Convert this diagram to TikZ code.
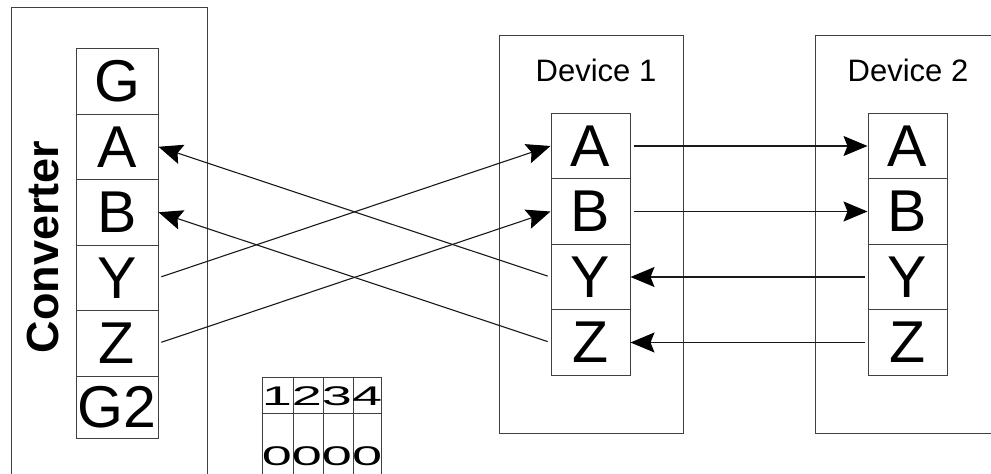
\documentclass[tikz,border=0pt]{standalone}
\usepackage{fontspec}
\setmainfont{Liberation Sans}
\usetikzlibrary{arrows.meta}
\tikzset{
  frame/.style={draw=black!75, line width=1pt},
  pin/.style={draw=black!75, line width=1pt, rectangle, inner sep=0pt, minimum height=65.5pt, font=\fontsize{59}{59}\selectfont},
  cpin/.style={pin, minimum width=82pt},
  dpin/.style={pin, minimum width=79pt},
  arr/.style={draw=black!90, line width=1.1pt, -{Stealth[length=24pt, width=20pt, inset=4pt, black]}, shorten <=3pt},
  devlabel/.style={font=\fontsize{31}{31}\selectfont, inner sep=0pt},
}
\begin{document}
\begin{tikzpicture}[x=1pt, y=-1pt]
\useasboundingbox (0,0) rectangle (991,474);
\clip (0,0) rectangle (991,474);
\fill[white] (0,0) rectangle (991,474);
% converter frame
\draw[frame] (11,7) rectangle (207,490);
\node[rotate=90, font=\bfseries\fontsize{45}{45}\selectfont, inner sep=0pt] (conv) at (43,247) {Converter};
% converter pins
\node[cpin] (cG)  at (117,81.25)  {G};
\node[cpin] (cA)  at (117,146.75) {A};
\node[cpin] (cB)  at (117,212.25) {B};
\node[cpin] (cY)  at (117,277.75) {Y};
\node[cpin] (cZ)  at (117,343.25) {Z};
\node[cpin, minimum height=62pt] (cG2) at (117,407) {G2};
% device 1
\draw[frame] (499,35) rectangle (683,433);
\node[devlabel] (d1l) at (596,70) {Device 1};
\node[dpin] (d1A) at (590.5,146) {A};
\node[dpin] (d1B) at (590.5,211.5) {B};
\node[dpin] (d1Y) at (590.5,277) {Y};
\node[dpin] (d1Z) at (590.5,342.5) {Z};
% device 2
\draw[frame] (815,35) rectangle (1000,433);
\node[devlabel] (d2l) at (908,70) {Device 2};
\node[dpin] (d2A) at (907.5,146) {A};
\node[dpin] (d2B) at (907.5,211.5) {B};
\node[dpin] (d2Y) at (907.5,277) {Y};
\node[dpin] (d2Z) at (907.5,342.5) {Z};
% switch table
\draw[frame] (262,377) rectangle (381,490);
\draw[frame] (262,413) -- (381,413);
\draw[frame] (293,377) -- (293,490);
\draw[frame] (323,377) -- (323,490);
\draw[frame] (353,377) -- (353,490);
\node[inner sep=0pt, font=\fontsize{27}{27}\selectfont] (sw1) at (322,396) {\scalebox{2}[1]{1234}};
\node[inner sep=0pt, font=\fontsize{27}{27}\selectfont] (sw2) at (322,456) {\scalebox{2}[1]{0000}};
% connectors
\draw[arr] (cY.east) -- (d1A.west);
\draw[arr] (cZ.east) -- (d1B.west);
\draw[arr] (d1Y.west) -- (cA.east);
\draw[arr] (d1Z.west) -- (cB.east);
\draw[arr] (d1A.east) -- (d2A.west);
\draw[arr] (d1B.east) -- (d2B.west);
\draw[arr] (d2Y.west) -- (d1Y.east);
\draw[arr] (d2Z.west) -- (d1Z.east);
\end{tikzpicture}
\end{document}
